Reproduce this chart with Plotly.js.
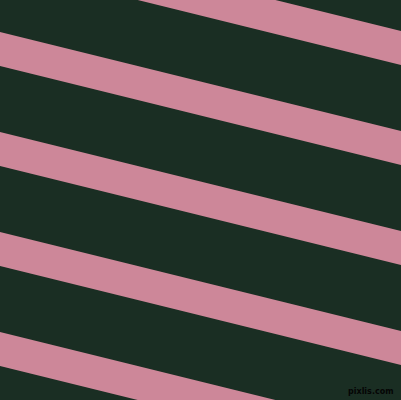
<!DOCTYPE html>
<html>
<head>
<meta charset="utf-8">
<script src="https://cdn.plot.ly/plotly-3.0.1.min.js"></script>
<style>
  html, body { margin: 0; padding: 0; background: #1a2e23; }
  #chart { width: 401px; height: 400px; }
</style>
</head>
<body>
<div id="chart"></div>
<script>
// stripe top edge, y at left side (x=0) and right side (x=401)
const stripeLeftTop = [-68, 32, 132, 232, 332];
const stripeRightTop = [31, 131, 231, 331, 431];
const stripeThickness = [34, 34, 34, 34, 34];

const bgColor = '#1a2e23';
const stripeColor = '#cd8799';

var traces = [];
for (var i = 0; i < stripeLeftTop.length; i++) {
  var lt = stripeLeftTop[i];
  var rt = stripeRightTop[i];
  var t = stripeThickness[i];
  traces.push({
    x: [0, 401, 401, 0, 0],
    y: [lt, rt, rt + t, lt + t, lt],
    type: 'scatter',
    mode: 'lines',
    fill: 'toself',
    fillcolor: stripeColor,
    line: {width: 0, color: stripeColor},
    hoverinfo: 'skip',
    showlegend: false
  });
}

var layout = {
  width: 401,
  height: 400,
  margin: {l: 0, r: 0, t: 0, b: 0, pad: 0},
  paper_bgcolor: bgColor,
  plot_bgcolor: bgColor,
  xaxis: {range: [0, 401], visible: false, fixedrange: true},
  yaxis: {range: [400, 0], visible: false, fixedrange: true},
  annotations: [{
    text: 'pixlis.com',
    x: 396, y: 391,
    xref: 'x', yref: 'y',
    xanchor: 'right', yanchor: 'middle',
    showarrow: false,
    font: {family: 'DejaVu Sans', size: 8, color: '#050505', weight: 'bold', shadow: 'none'}
  }]
};

Plotly.newPlot(document.getElementById('chart'), traces, layout, {staticPlot: true, displayModeBar: false});
</script>
</body>
</html>
